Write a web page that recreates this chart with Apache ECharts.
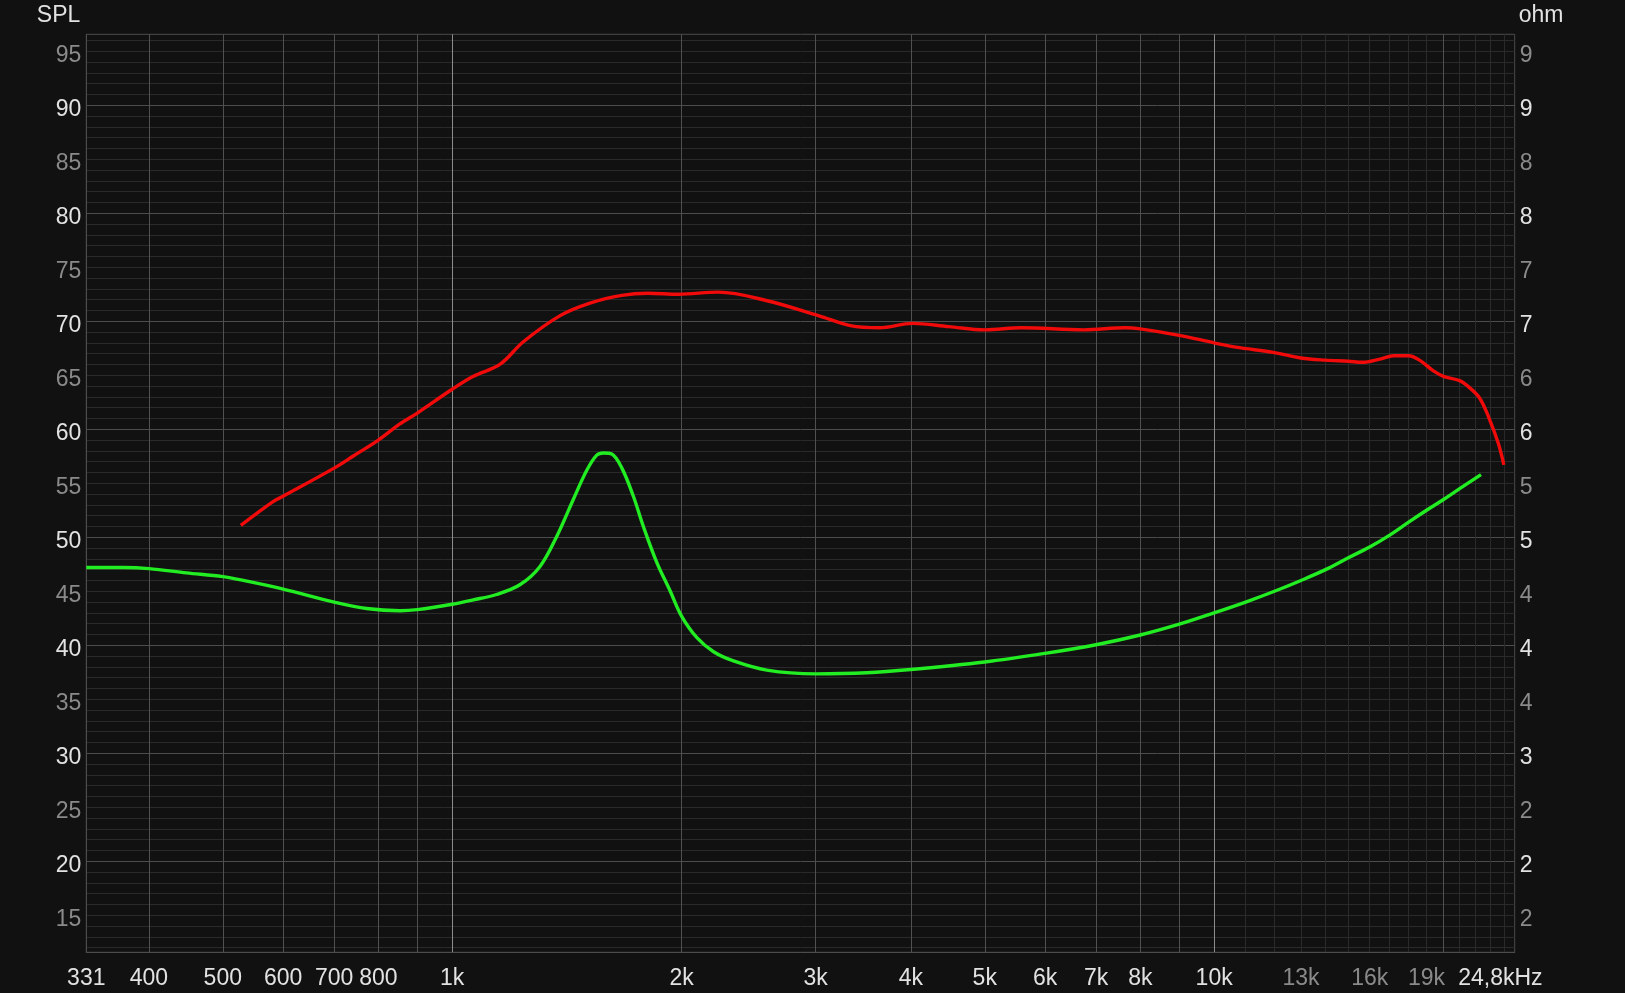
<!DOCTYPE html>
<html>
<head>
<meta charset="utf-8">
<script src="https://cdn.jsdelivr.net/npm/echarts@6/dist/echarts.min.js"></script>
<style>
html,body{margin:0;padding:0;background:#111111;}
#chart{width:1625px;height:993px;}
</style>
</head>
<body>
<div id="chart"></div>
<script>
// ---- data ----
const redFreq = [528,582,600,700,741,800,854,900,1000,1066,1155,1240,1384,1520,1670,1806,1984,2236,2591,3030,3330,3636,4019,4485,5006,5587,6743,7642,8000,9000,10000,10680,12000,13000,14000,15000,15650,16500,17200,18000,18600,19400,20000,21000,21600,22300,22900,23600,24000];
const redSpl  = [51.1,53.3,53.8,56.4,57.5,59.0,60.5,61.5,63.7,64.9,66.0,68.1,70.5,71.7,72.4,72.6,72.5,72.7,71.9,70.5,69.6,69.4,69.8,69.5,69.2,69.4,69.2,69.4,69.3,68.7,68.0,67.6,67.1,66.6,66.4,66.3,66.2,66.5,66.8,66.8,66.4,65.4,64.9,64.5,63.9,62.9,61.2,58.7,56.7];

const greenFreq = [331,370,400,448,500,532,600,700,772,854,900,1000,1066,1143,1227,1304,1371,1442,1502,1548,1580,1620,1670,1729,1782,1855,1933,2000,2095,2203,2340,2587,3000,3500,4000,5000,6000,7000,8000,9000,10000,11000,12000,13000,14000,15000,16000,17000,18000,19000,20000,21000,22400];
const greenOhm  = [4.72,4.72,4.71,4.67,4.635,4.60,4.52,4.40,4.34,4.32,4.33,4.38,4.42,4.47,4.56,4.73,5.005,5.35,5.62,5.76,5.78,5.77,5.64,5.38,5.10,4.77,4.50,4.27,4.07,3.94,3.855,3.77,3.735,3.745,3.775,3.845,3.925,4.005,4.095,4.195,4.30,4.40,4.50,4.60,4.70,4.81,4.91,5.02,5.14,5.25,5.35,5.45,5.58];

const freqTicks = [331,400,500,600,700,800,1000,2000,3000,4000,5000,6000,7000,8000,10000,13000,16000,19000,24800];
const freqTickText = ['331','400','500','600','700','800','1k','2k','3k','4k','5k','6k','7k','8k','10k','13k','16k','19k','24,8kHz'];
const freqDimTicks = [13000,16000,19000];
const freqMajorLines = [1000,10000];
const freqMidLines = [400,500,600,700,800,900,2000,3000,4000,5000,6000,7000,8000,9000,20000];
const freqMinorLines = [11000,12000,13000,14000,15000,16000,17000,18000,19000,21000,22000,23000,24000];

const splTicks = [15,20,25,30,35,40,45,50,55,60,65,70,75,80,85,90,95];
const splMajorLines = [20,30,40,50,60,70,80,90];
const splMinorLines = [12,13,14,15,16,17,18,19,21,22,23,24,25,26,27,28,29,31,32,33,34,35,36,37,38,39,41,42,43,44,45,46,47,48,49,51,52,53,54,55,56,57,58,59,61,62,63,64,65,66,67,68,69,71,72,73,74,75,76,77,78,79,81,82,83,84,85,86,87,88,89,91,92,93,94,95,96];

const ohmTicks = [1.5,2,2.5,3,3.5,4,4.5,5,5.5,6,6.5,7,7.5,8,8.5,9,9.5];
const ohmTickText = ['2','2','2','3','4','4','4','5','5','6','6','7','7','8','8','9','9'];

const splMin = 11.57, splMax = 96.57;
const fMin = 331, fMax = 24800;

// ---- chart ----
const FONT = "'Liberation Sans', Arial, sans-serif";
const BRIGHT = '#e2e2e2', DIM = '#8a8a8a';
const FS = 23;
const chart = echarts.init(document.getElementById('chart'));

const yRich = {
  b: {fontSize: FS, fontFamily: FONT, color: BRIGHT, padding: [8, 0, 0, 0]},
  d: {fontSize: FS, fontFamily: FONT, color: DIM, padding: [8, 0, 0, 0]}
};

function hiddenX(lines, color) {
  return {
    type: 'log', logBase: 10, min: fMin, max: fMax, gridIndex: 0, position: 'bottom',
    axisLine: {show: false}, axisLabel: {show: false},
    axisTick: {show: false, customValues: lines},
    splitLine: {show: true, lineStyle: {color: color, width: 1}},
    minorSplitLine: {show: false}
  };
}

const option = {
  backgroundColor: '#111111',
  animation: false,
  grid: {left: 86.3, right: 110.3, top: 34.3, bottom: 40.7, show: true, borderColor: '#4c4c4c', borderWidth: 1, backgroundColor: 'transparent'},
  xAxis: [
    {
      type: 'log', logBase: 10, min: fMin, max: fMax, gridIndex: 0, position: 'bottom',
      axisLine: {show: true, lineStyle: {color: '#4c4c4c'}},
      axisTick: {show: false, customValues: freqMinorLines},
      splitLine: {show: true, lineStyle: {color: '#2a2a2a', width: 1}},
      axisLabel: {
        show: true, customValues: freqTicks, margin: 15, fontSize: FS, fontFamily: FONT,
        color: function (v) { return freqDimTicks.indexOf(Math.round(Number(v))) >= 0 ? DIM : BRIGHT; },
        formatter: function (v) {
          const i = freqTicks.findIndex(t => Math.abs(t - v) / t < 0.01);
          const s = i >= 0 ? freqTickText[i] : '';
          return i === freqTicks.length - 1 ? '{last|' + s + '}' : s;
        },
        rich: {last: {fontSize: FS, fontFamily: FONT, color: BRIGHT, width: 113, align: 'left'}}
      }
    },
    hiddenX(freqMidLines, '#505050'),
    hiddenX(freqMajorLines, '#8c8c8c')
  ],
  yAxis: [
    {
      type: 'value', min: splMin, max: splMax, position: 'left', gridIndex: 0,
      name: 'SPL', nameLocation: 'end', nameGap: 19,
      nameTextStyle: {color: BRIGHT, fontSize: FS, fontFamily: FONT, align: 'right', verticalAlign: 'middle', padding: [0, 6, 0, 0]},
      axisLine: {show: true, lineStyle: {color: '#4c4c4c'}},
      axisTick: {show: false, customValues: splMinorLines},
      splitLine: {show: true, lineStyle: {color: '#2a2a2a', width: 1}},
      axisLabel: {
        show: true, customValues: splTicks, margin: 5,
        formatter: function (v) {
          const n = Math.round(v);
          return '{' + (n % 10 === 0 ? 'b' : 'd') + '|' + n + '}';
        },
        rich: yRich
      }
    },
    {
      type: 'value', min: splMin / 10, max: splMax / 10, position: 'right', gridIndex: 0,
      name: 'ohm', nameLocation: 'end', nameGap: 19,
      nameTextStyle: {color: BRIGHT, fontSize: FS, fontFamily: FONT, align: 'left', verticalAlign: 'middle', padding: [0, 0, 0, 4]},
      axisLine: {show: false},
      axisTick: {show: false},
      splitLine: {show: false},
      axisLabel: {
        show: true, customValues: ohmTicks, margin: 5,
        formatter: function (v) {
          const i = ohmTicks.findIndex(t => Math.abs(t - v) < 0.01);
          if (i < 0) return '';
          const whole = Math.abs(ohmTicks[i] - Math.round(ohmTicks[i])) < 0.01;
          return '{' + (whole ? 'b' : 'd') + '|' + ohmTickText[i] + '}';
        },
        rich: yRich
      }
    },
    {
      type: 'value', min: splMin, max: splMax, position: 'left', gridIndex: 0, show: true,
      axisLine: {show: false}, axisLabel: {show: false},
      axisTick: {show: false, customValues: splMajorLines},
      splitLine: {show: true, lineStyle: {color: '#4c4c4c', width: 1}}
    }
  ],
  series: [
    {
      name: 'SPL', type: 'line', xAxisIndex: 0, yAxisIndex: 0,
      data: redFreq.map((f, i) => [f, redSpl[i]]),
      showSymbol: false, smooth: 0.35,
      lineStyle: {color: '#f00a0a', width: 3.4},
      z: 5
    },
    {
      name: 'Impedance', type: 'line', xAxisIndex: 0, yAxisIndex: 1,
      data: greenFreq.map((f, i) => [f, greenOhm[i]]),
      showSymbol: false, smooth: 0.35,
      lineStyle: {color: '#22ec22', width: 3.4},
      z: 5
    }
  ]
};
chart.setOption(option);
</script>
</body>
</html>
